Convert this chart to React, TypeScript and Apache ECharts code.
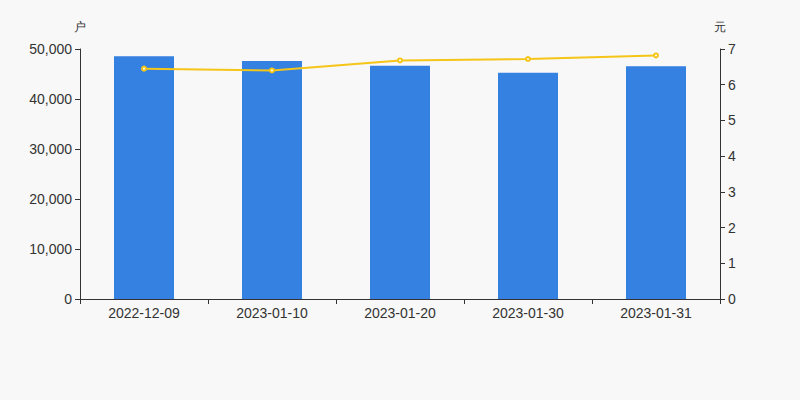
import React, { useEffect, useRef } from "react";
import * as echarts from "echarts";

const categories = ["2022-12-09", "2023-01-10", "2023-01-20", "2023-01-30", "2023-01-31"];
const holders = [48550, 47600, 46650, 45250, 46550];
const prices = [6.45, 6.4, 6.68, 6.72, 6.82];

export default function App() {
  const ref = useRef<HTMLDivElement>(null);
  useEffect(() => {
    const chart = echarts.init(ref.current!, null, { renderer: "svg" });
    const axisLine = { show: true, lineStyle: { color: "#333" } };
    const axisLabel = { color: "#333", fontSize: 14, fontFamily: "Liberation Sans, Arial, sans-serif" };
    chart.setOption({
      animation: false,
      backgroundColor: "#f8f8f8",
      grid: { left: 80, right: 80, top: 49, bottom: 101 },
      xAxis: {
        type: "category",
        data: categories,
        axisLine,
        axisTick: { show: true, lineStyle: { color: "#333" } },
        axisLabel: { ...axisLabel, margin: 7 },
      },
      yAxis: [
        {
          type: "value",
          name: "户",
          min: 0,
          max: 50000,
          interval: 10000,
          nameTextStyle: { color: "#333", fontSize: 12 },
          nameGap: 16,
          axisLine,
          axisTick: { show: true, lineStyle: { color: "#333" } },
          axisLabel,
          splitLine: { show: false },
        },
        {
          type: "value",
          name: "元",
          min: 0,
          max: 7,
          interval: 1,
          position: "right",
          nameTextStyle: { color: "#333", fontSize: 12 },
          nameGap: 16,
          axisLine,
          axisTick: { show: true, lineStyle: { color: "#333" } },
          axisLabel,
          splitLine: { show: false },
        },
      ],
      series: [
        {
          type: "bar",
          data: holders,
          barWidth: 60,
          itemStyle: { color: "#3481e1" },
          yAxisIndex: 0,
        },
        {
          type: "line",
          data: prices,
          yAxisIndex: 1,
          symbol: "emptyCircle",
          symbolSize: 4,
          lineStyle: { color: "#f5c518", width: 2 },
          itemStyle: { color: "#f5c518" },
        },
      ],
    });
    return () => chart.dispose();
  }, []);
  return <div ref={ref} style={{ width: 800, height: 400, position: "absolute", left: 0, top: 0 }} />;
}
